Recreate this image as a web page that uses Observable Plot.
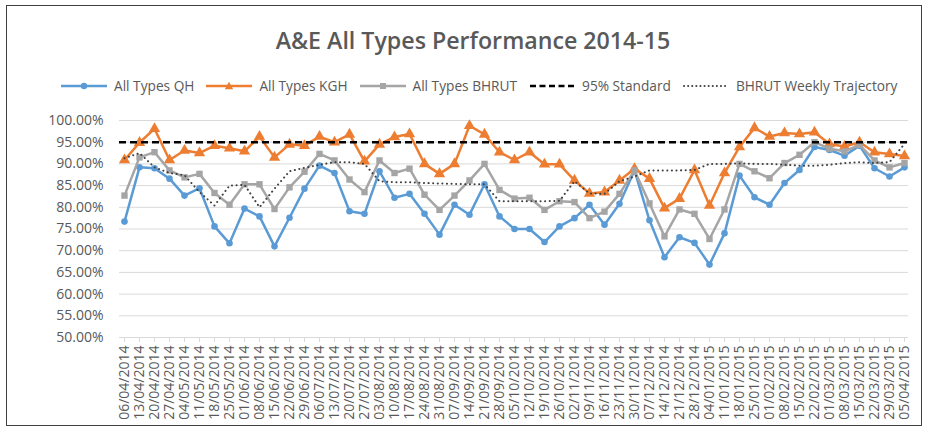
<!DOCTYPE html>
<html><head><meta charset="utf-8">
<script src="https://cdn.jsdelivr.net/npm/d3@7"></script>
<script src="https://cdn.jsdelivr.net/npm/@observablehq/plot@0.6"></script>
<style>
body{margin:0;background:#fff;font-family:"Open Sans",sans-serif;}
#wrap{position:relative;width:929px;height:428px;overflow:hidden;background:#fff}
#frame{position:absolute;left:6px;top:5px;width:916px;height:421px;border:1px solid #404040;box-sizing:border-box;pointer-events:none}
#title{position:absolute;left:0;width:946px;top:24px;text-align:center;font-size:23.2px;font-weight:600;color:#595959;white-space:nowrap}
#legend{position:absolute;left:61px;top:76px;display:flex;align-items:center;font-size:13.7px;color:#595959;white-space:nowrap}
.item{display:flex;align-items:center;margin-right:12px}
.item svg{margin-right:7px}
#chart{position:absolute;left:0;top:0}
</style></head>
<body><div id="wrap"><div id="title"></div><div id="legend"></div><div id="chart"></div><div id="frame"></div></div>
<script>
const title = "A&E All Types Performance 2014-15";
const dates = ["06/04/2014","13/04/2014","20/04/2014","27/04/2014","04/05/2014","11/05/2014","18/05/2014","25/05/2014","01/06/2014","08/06/2014","15/06/2014","22/06/2014","29/06/2014","06/07/2014","13/07/2014","20/07/2014","27/07/2014","03/08/2014","10/08/2014","17/08/2014","24/08/2014","31/08/2014","07/09/2014","14/09/2014","21/09/2014","28/09/2014","05/10/2014","12/10/2014","19/10/2014","26/10/2014","02/11/2014","09/11/2014","16/11/2014","23/11/2014","30/11/2014","07/12/2014","14/12/2014","21/12/2014","28/12/2014","04/01/2015","11/01/2015","18/01/2015","25/01/2015","01/02/2015","08/02/2015","15/02/2015","22/02/2015","01/03/2015","08/03/2015","15/03/2015","22/03/2015","29/03/2015","05/04/2015"];
const qh = [76.7,89.2,89.0,86.6,82.7,84.4,75.6,71.7,79.7,77.9,71.0,77.6,84.3,89.6,87.9,79.1,78.5,88.3,82.2,83.1,78.5,73.7,80.6,78.3,85.3,77.9,75.0,75.0,72.0,75.6,77.5,80.6,76.0,80.8,88.5,77.0,68.5,73.1,71.8,66.8,74.0,87.3,82.3,80.6,85.6,88.6,93.9,93.2,91.9,94.2,89.0,87.1,89.2];
const kgh = [90.9,94.9,98.1,90.9,93.1,92.5,94.2,93.6,92.9,96.3,91.5,94.5,94.2,96.3,95.0,96.8,90.6,94.5,96.2,96.9,90.0,87.7,90.0,98.8,96.8,92.7,90.9,92.7,89.9,89.9,86.2,83.2,83.5,86.2,88.9,86.6,79.8,82.0,88.6,80.4,87.9,93.9,98.3,96.3,97.1,96.9,97.3,94.6,94.0,95.0,92.7,92.3,91.8];
const bhrut = [82.7,91.5,92.7,88.5,86.9,87.7,83.3,80.6,85.3,85.3,79.6,84.6,88.2,92.3,90.8,86.4,83.5,90.8,87.9,88.9,82.9,79.4,82.7,86.2,90.0,84.0,82.0,82.2,79.4,81.4,81.2,77.5,79.0,83.1,88.5,80.9,73.3,79.5,78.5,72.7,79.5,90.0,88.3,86.7,90.2,92.1,95.0,93.5,92.9,94.4,90.8,89.2,90.2];
const trajectory = [91.3,92.5,89.2,87.9,87.4,83.5,80.4,85.0,85.2,80.0,84.3,88.3,89.1,89.8,90.4,90.4,90.0,86.0,85.8,85.8,85.6,85.5,85.4,85.3,85.3,81.4,81.4,81.4,81.4,81.5,86.0,83.2,83.1,86.0,87.1,88.5,88.5,88.5,88.6,90.0,90.0,90.1,90.0,90.0,89.8,89.6,89.6,89.8,90.2,90.4,90.2,90.4,94.6];
const standard = 95;
const seriesNames = ["All Types QH","All Types KGH","All Types BHRUT","95% Standard","BHRUT Weekly Trajectory"];

const C = {qh:"#5B9BD5", kgh:"#ED7D31", bhrut:"#A5A5A5", std:"#000000", traj:"#404040"};

document.getElementById("title").textContent = title;

// legend
const swatches = [
  `<line x1="0" x2="46" y1="6" y2="6" stroke="${C.qh}" stroke-width="2.5"/><circle cx="23" cy="6" r="3.2" fill="${C.qh}"/>`,
  `<line x1="0" x2="46" y1="6" y2="6" stroke="${C.kgh}" stroke-width="2.5"/><path d="M23,1.8L27.2,9.3L18.8,9.3Z" fill="${C.kgh}"/>`,
  `<line x1="0" x2="46" y1="6" y2="6" stroke="${C.bhrut}" stroke-width="2.5"/><rect x="20" y="3" width="6" height="6" fill="${C.bhrut}"/>`,
  `<line x1="1" x2="46" y1="6" y2="6" stroke="${C.std}" stroke-width="2.5" stroke-dasharray="6,3.5"/>`,
  `<line x1="1" x2="46" y1="6" y2="6" stroke="${C.traj}" stroke-width="2" stroke-dasharray="0.1,4" stroke-linecap="round"/>`
];
const leg = document.getElementById("legend");
seriesNames.forEach((n, i) => {
  const d = document.createElement("div");
  d.className = "item";
  d.innerHTML = `<svg width="46" height="12">${swatches[i]}</svg><span>${n}</span>`;
  leg.appendChild(d);
});

const rows = dates.map((d, i) => ({date: d, qh: qh[i], kgh: kgh[i], bhrut: bhrut[i], traj: trajectory[i]}));

const chart = Plot.plot({
  width: 929,
  height: 428,
  marginLeft: 119,
  marginRight: 21,
  marginTop: 120,
  marginBottom: 91,
  style: {fontFamily: "Open Sans, sans-serif", fontSize: "14px", color: "#595959", background: "transparent"},
  x: {type: "point", domain: dates, padding: 0, label: null},
  y: {domain: [50, 100], ticks: 10, label: null},
  marks: [
    Plot.gridY({ticks: 10, stroke: "#d9d9d9", strokeOpacity: 1, strokeWidth: 1}),
    Plot.axisY({ticks: 10, tickSize: 0, tickPadding: 16, tickFormat: d => d.toFixed(2) + "%", fill: "#595959", fontSize: 14}),
    Plot.axisX({tickRotate: -90, tickSize: 5, tickPadding: 3, stroke: "#d9d9d9", fill: "#595959", fontSize: 14}),
    Plot.line(rows, {x: "date", y: "qh", stroke: C.qh, strokeWidth: 2.5}),
    Plot.dot(rows, {x: "date", y: "qh", fill: C.qh, r: 3.3, symbol: "circle"}),
    Plot.line(rows, {x: "date", y: "kgh", stroke: C.kgh, strokeWidth: 2.5}),
    Plot.dot(rows, {x: "date", y: "kgh", fill: C.kgh, r: 4.2, symbol: "triangle"}),
    Plot.line(rows, {x: "date", y: "bhrut", stroke: C.bhrut, strokeWidth: 2.5}),
    Plot.dot(rows, {x: "date", y: "bhrut", fill: C.bhrut, r: 3.6, symbol: "square"}),
    Plot.ruleY([standard], {stroke: C.std, strokeWidth: 2.5, strokeDasharray: "7,4"}),
    Plot.line(rows, {x: "date", y: "traj", stroke: C.traj, strokeWidth: 2, strokeDasharray: "0.1,4.5", strokeLinecap: "round"})
  ]
});
document.getElementById("chart").appendChild(chart);
</script></body></html>
